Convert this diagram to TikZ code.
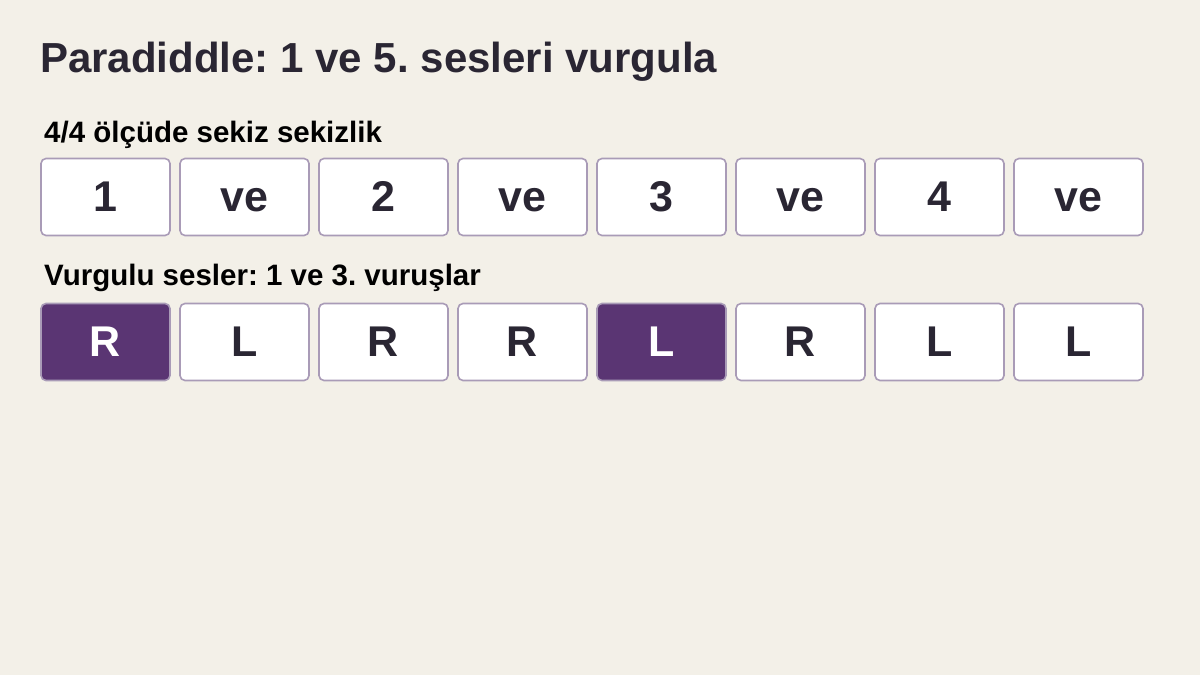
\documentclass[tikz,border=0pt]{standalone}
\usepackage{fontspec}
\setmainfont{Liberation Sans}[BoldFont={Liberation Sans Bold}]
\definecolor{bgc}{HTML}{F3F0E8}
\definecolor{ink}{HTML}{2A2633}
\definecolor{edge}{HTML}{A99BB7}
\definecolor{accent}{HTML}{5A3573}
\begin{document}
\frenchspacing
\begin{tikzpicture}[x=1pt,y=-1pt,
  cell/.style={draw=edge, line width=1.6pt, rounded corners=5pt, fill=white,
    minimum width=129pt, minimum height=77pt, inner sep=0pt, text=ink,
    text height=28pt, text depth=0pt,
    font=\bfseries\fontsize{43}{43}\selectfont},
  hit/.style={cell, fill=accent, text=white},
  lbl/.style={anchor=base west, inner sep=0pt, font=\bfseries\fontsize{29.5}{29.5}\selectfont, text=black}]
\fill[bgc] (0,0) rectangle (1200,675);
\useasboundingbox (0,0) rectangle (1200,675);
\node[anchor=base west, inner sep=0pt, text=ink, font=\bfseries\fontsize{42}{42}\selectfont] (title) at (40,72) {Paradiddle: 1 ve 5. sesleri vurgula};
\node[lbl] (l1) at (44,142) {4/4 ölçüde sekiz sekizlik};
\node[lbl] (l2) at (44,285) {Vurgulu sesler: 1 ve 3. vuruşlar};
\foreach \t [count=\i from 0] in {1,ve,2,ve,3,ve,4,ve} {
  \node[cell] (a\i) at (105.5+139*\i,197) {\t};
}
\foreach \t/\s [count=\i from 0] in {R/hit,L/cell,R/cell,R/cell,L/hit,R/cell,L/cell,L/cell} {
  \node[\s] (b\i) at (105.5+139*\i,342) {\t};
}
\end{tikzpicture}
\end{document}
